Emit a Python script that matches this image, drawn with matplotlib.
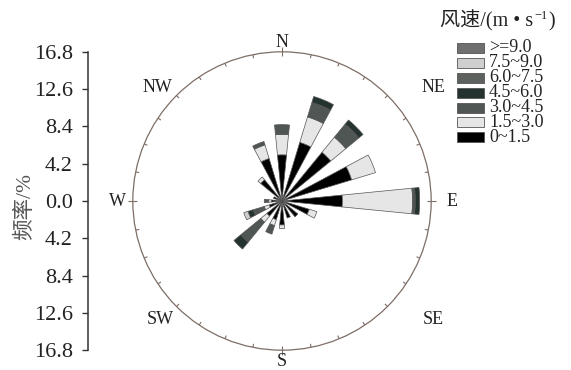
import numpy as np
import matplotlib.pyplot as plt
from matplotlib.patches import Wedge, Circle, Rectangle
from matplotlib.collections import LineCollection

plt.rcParams['font.family'] = ['Liberation Serif', 'Noto Sans CJK SC']

# 16 compass sectors, frequency (%) of each wind-speed class
directions = ['N', 'NNE', 'NE', 'ENE', 'E', 'ESE', 'SE', 'SSE',
              'S', 'SSW', 'SW', 'WSW', 'W', 'WNW', 'NW', 'NNW']
speed_labels = ['0~1.5', '1.5~3.0', '3.0~4.5', '4.5~6.0', '6.0~7.5', '7.5~9.0', '>=9.0']

freq_0_15 = [5.2, 6.9, 7.1, 8.2, 6.8, 3.2, 2.3, 2.0, 2.7, 2.2, 2.2, 1.5, 1.2, 1.0, 3.1, 5.0]
freq_15_30 = [2.3, 3.0, 2.2, 2.8, 7.9, 0.9, 0.0, 0.0, 0.4, 0.7, 0.9, 0.6, 0.3, 0.0, 0.4, 1.6]
freq_30_45 = [1.1, 1.7, 1.9, 0.0, 0.3, 0.0, 0.0, 0.0, 0.0, 1.0, 2.9, 1.3, 0.5, 0.0, 0.0, 0.4]
freq_45_60 = [0.0, 0.7, 0.6, 0.0, 0.5, 0.0, 0.0, 0.0, 0.0, 0.0, 1.0, 0.6, 0.0, 0.0, 0.0, 0.0]
freq_60_75 = [0.0] * 16
freq_75_90 = [0.0, 0.0, 0.0, 0.0, 0.0, 0.0, 0.0, 0.0, 0.0, 0.0, 0.0, 0.5, 0.0, 0.0, 0.0, 0.0]
freq_90_up = [0.0] * 16

speed_colors = ['#000000', '#e6e6e6', '#4f5653', '#243230', '#5d625f', '#cfcfcf', '#6f6f6f']

freq_ticks = [16.8, 12.6, 8.4, 4.2, 0.0, -4.2, -8.4, -12.6, -16.8]
r_max = 16.8

freqs = np.array([freq_0_15, freq_15_30, freq_30_45, freq_45_60,
                  freq_60_75, freq_75_90, freq_90_up])
sector_angles = np.arange(len(directions)) * 360.0 / len(directions)
bar_width = 11.25

# figure laid out in pixels, data units are percent
W, H = 571, 370
cx, cy = 282, 201
px = 8.88  # pixels per percent

fig = plt.figure(figsize=(W / 100, H / 100), dpi=100)
ax = fig.add_axes([0, 0, 1, 1])
ax.set_xlim(-cx / px, (W - cx) / px)
ax.set_ylim(-(H - cy) / px, cy / px)

# stacked wedges
cum = np.zeros(len(directions))
for k in range(len(speed_labels)):
    for i, a in enumerate(sector_angles):
        f = freqs[k, i]
        if f <= 0:
            continue
        outer = cum[i] + f
        th = 90 - a
        ax.add_patch(Wedge((0, 0), outer, th - bar_width / 2, th + bar_width / 2,
                           width=f, facecolor=speed_colors[k],
                           edgecolor='#555555', linewidth=0.5))
    cum += freqs[k]

# outer ring with tick marks
ax.add_patch(Circle((0, 0), r_max, fill=False, edgecolor='#7d6e66', linewidth=0.9))
segs = []
for a in np.arange(0, 360, 11.25):
    t = np.deg2rad(90 - a)
    r0, r1 = (16.3, 17.3) if a % 90 == 0 else (16.4, 16.8)
    segs.append([(r0 * np.cos(t), r0 * np.sin(t)), (r1 * np.cos(t), r1 * np.sin(t))])
ax.add_collection(LineCollection(segs, colors='#7d6e66', linewidths=0.8))

compass = {'N': (0, 17.9), 'NE': (17.0, 12.8), 'E': (19.1, 0.0), 'SE': (17.0, -13.4),
           'S': (0, -18.1), 'SW': (-13.7, -13.4), 'W': (-18.5, 0.0), 'NW': (-14.0, 12.8)}
for name, (x, y) in compass.items():
    ax.text(x, y, name, ha='center', va='center', fontsize=13, color='#222222')

# frequency axis on the left
for s in ['top', 'right', 'bottom']:
    ax.spines[s].set_visible(False)
ax.spines['left'].set_position(('data', (88 - cx) / px))
ax.spines['left'].set_bounds(-r_max, r_max)
ax.spines['left'].set_color('#333333')
ax.spines['left'].set_linewidth(1.1)
ax.set_xticks([])
ax.set_yticks(freq_ticks)
ax.set_yticklabels([f'{abs(v):.1f}' for v in freq_ticks])
ax.tick_params(axis='y', direction='out', length=4, width=1.0, pad=7,
               labelsize=16, colors='#333333', labelcolor='#222222')
ax.text((25 - cx) / px, (cy - 207) / px, '频率/%', rotation=90, ha='center', va='center',
        fontsize=15.5, color='#555555')


def fpx(x, y):
    return x / W, 1 - y / H


# speed legend: title in pieces so the CJK part keeps its font
renderer = fig.canvas.get_renderer()
tx, ty = fpx(440, 26)
t1 = fig.text(tx, ty, '风速/(m • s', ha='left', va='baseline', fontsize=14.5, color='#222222')
x1 = t1.get_window_extent(renderer).x1 / W
t2 = fig.text(x1 + 1 / W, ty + 7 / H, '−1', ha='left', va='baseline', fontsize=9,
              color='#222222')
x2 = t2.get_window_extent(renderer).x1 / W
fig.text(x2 + 1 / W, ty, ')', ha='left', va='baseline', fontsize=14.5, color='#222222')

for j, k in enumerate(range(len(speed_labels) - 1, -1, -1)):
    yc = 48 + j * 14.9
    x0, y0 = fpx(457, yc + 5)
    fig.patches.append(Rectangle((x0, y0), 27 / W, 10 / H, transform=fig.transFigure,
                                 facecolor=speed_colors[k], edgecolor='#555555', linewidth=0.6))
    lx, ly = fpx(489, yc)
    fig.text(lx, ly, speed_labels[k], ha='left', va='center', fontsize=13, color='#222222')

fig.savefig('out.png', dpi=100)
